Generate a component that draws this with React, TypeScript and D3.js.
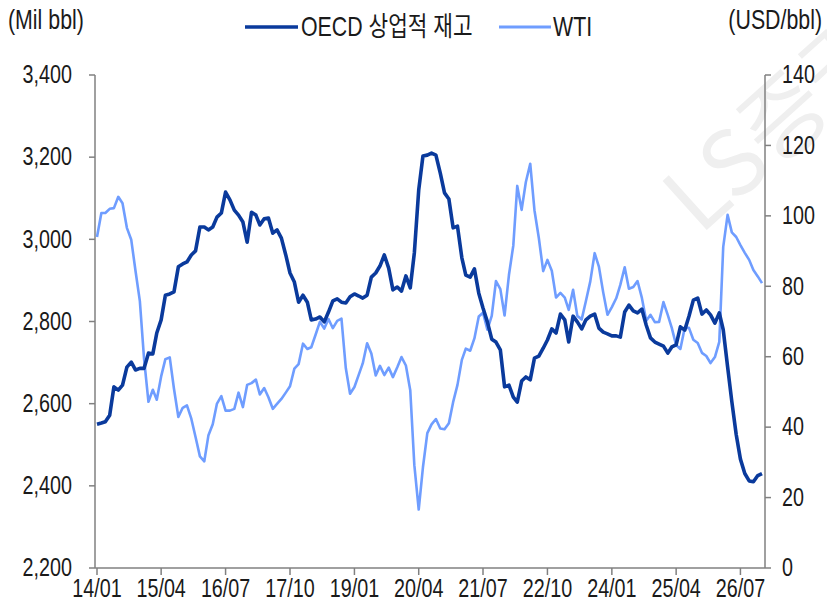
import React, { useEffect, useRef } from 'react';
import * as d3 from 'd3';

// monthly, 2014/01 .. 2026/12
const oecdStocks = [
  2550, 2553, 2556, 2572, 2641, 2633, 2645, 2689, 2701, 2682, 2686, 2686,
  2723, 2721, 2772, 2804, 2864, 2867, 2872, 2933, 2940, 2945, 2962, 2972,
  3030, 3030, 3023, 3030, 3054, 3064, 3115, 3096, 3071, 3059, 3042, 2993,
  3066, 3059, 3035, 3050, 3052, 3015, 3023, 3003, 2962, 2918, 2896, 2847,
  2864, 2847, 2804, 2806, 2811, 2799, 2823, 2850, 2855, 2847, 2845, 2860,
  2867, 2862, 2857, 2864, 2908, 2918, 2935, 2962, 2930, 2877, 2884, 2874,
  2911, 2882, 2967, 3120, 3203, 3205, 3210, 3205, 3161, 3113, 3098, 3028,
  3032, 2955, 2913, 2908, 2928, 2869, 2833, 2799, 2757, 2750, 2731, 2641,
  2645, 2616, 2604, 2655, 2665, 2658, 2711, 2716, 2735, 2755, 2782, 2772,
  2818, 2804, 2750, 2813, 2799, 2782, 2804, 2813, 2818, 2784, 2774, 2770,
  2765, 2765, 2762, 2823, 2840, 2826, 2821, 2830, 2791, 2760, 2750, 2745,
  2740, 2723, 2738, 2743, 2787, 2779, 2813, 2852, 2857, 2818, 2828, 2816,
  2796, 2821, 2780, 2690, 2605, 2525, 2465, 2430, 2412, 2410, 2425, 2430,
];

const wtiPrice = [
  94.0, 100.8, 100.8, 102.0, 102.2, 105.4, 103.6, 96.6, 93.2, 84.4, 75.8, 59.3,
  47.2, 50.6, 47.8, 54.4, 59.3, 59.8, 50.9, 42.9, 45.5, 46.2, 42.4, 37.2,
  31.7, 30.3, 37.6, 40.8, 46.7, 48.8, 44.7, 44.7, 45.2, 49.8, 45.7, 52.0,
  52.5, 53.5, 49.3, 51.1, 48.5, 45.2, 46.6, 48.0, 49.8, 51.6, 56.6, 57.9,
  63.7, 62.2, 62.7, 66.3, 69.9, 68.0, 70.7, 68.1, 70.2, 70.8, 56.7, 49.5,
  51.4, 54.9, 58.1, 63.8, 60.9, 54.7, 57.4, 54.8, 56.9, 54.2, 57.0, 59.9,
  57.5, 50.5, 29.2, 16.6, 28.6, 38.3, 40.8, 42.3, 39.6, 39.4, 41.1, 47.1,
  52.0, 59.1, 62.3, 61.7, 65.2, 71.4, 72.5, 67.7, 71.6, 81.5, 79.2, 71.7,
  83.2, 91.6, 108.5, 101.7, 109.6, 114.8, 101.6, 93.7, 84.3, 87.5, 84.4, 76.8,
  78.1, 76.8, 73.3, 79.0, 71.6, 70.6, 75.8, 81.4, 89.4, 85.6, 78.2, 71.9,
  74.1, 76.6, 80.4, 85.4, 79.3, 79.8, 81.5, 76.7, 70.2, 71.9, 69.8, 69.9,
  75.5, 71.8, 68.2, 63.3, 62.2, 68.2, 68.2, 64.8, 63.9, 61.1, 60.2, 58.2,
  59.9, 64.2, 91.2, 100.3, 95.3, 94.0, 91.7, 89.5, 87.5, 84.6, 82.8, 80.9,
];

const xTickLabels = ['14/01', '15/04', '16/07', '17/10', '19/01', '20/04', '21/07', '22/10', '24/01', '25/04', '26/07'];
const leftTicks = [2200, 2400, 2600, 2800, 3000, 3200, 3400];
const rightTicks = [0, 20, 40, 60, 80, 100, 120, 140];
const seriesNames = ['OECD 상업적 재고', 'WTI'];

const W = 827;
const H = 603;
const font = '"Liberation Sans", Arial, "Noto Sans CJK KR", sans-serif';
const dark = '#0a3a9c';
const light = '#6f9dff';
const axisColor = '#808080';

export default function App() {
  const ref = useRef<SVGSVGElement>(null);

  useEffect(() => {
    const svg = d3.select(ref.current);
    svg.selectAll('*').remove();

    const parse = d3.timeParse('%y/%m');
    const months = d3.timeMonth.range(new Date(2014, 0, 1), new Date(2027, 0, 1));

    const x = d3.scaleTime().domain([months[0], months[months.length - 1]]).range([97, 762]);
    const yL = d3.scaleLinear().domain([2200, 3400]).range([568, 75]);
    const yR = d3.scaleLinear().domain([0, 140]).range([568, 75]);

    // squeezed text helper (narrow look)
    const label = (g, tx, ty, str, size, anchor, sx = 0.79) =>
      g.append('text')
        .attr('transform', `translate(${tx},${ty}) scale(${sx},1)`)
        .attr('text-anchor', anchor)
        .attr('dominant-baseline', 'central')
        .attr('font-family', font)
        .attr('font-size', size)
        .attr('fill', '#1a1a1a')
        .text(str);

    // watermark (cut by the right edge, as in the source)
    svg.append('text')
      .attr('transform', 'translate(700,236) rotate(-42)')
      .attr('font-family', '"Noto Sans CJK KR", sans-serif')
      .attr('font-size', 90)
      .attr('fill', '#efefef')
      .text('LS증권');

    // left axis
    const gl = svg.append('g');
    gl.append('line').attr('x1', 95).attr('x2', 95).attr('y1', yL(3400)).attr('y2', yL(2200))
      .attr('stroke', axisColor).attr('stroke-width', 1.5);
    leftTicks.forEach(t => {
      gl.append('line').attr('x1', 89).attr('x2', 95).attr('y1', yL(t)).attr('y2', yL(t))
        .attr('stroke', axisColor).attr('stroke-width', 1.5);
      label(gl, 72, yL(t), d3.format(',')(t), 25, 'end');
    });

    // right axis
    const gr = svg.append('g');
    gr.append('line').attr('x1', 765).attr('x2', 765).attr('y1', yR(140)).attr('y2', yR(0))
      .attr('stroke', axisColor).attr('stroke-width', 1.5);
    rightTicks.forEach(t => {
      gr.append('line').attr('x1', 765).attr('x2', 771).attr('y1', yR(t)).attr('y2', yR(t))
        .attr('stroke', axisColor).attr('stroke-width', 1.5);
      label(gr, 782, yR(t), String(t), 25, 'start');
    });

    // bottom axis
    const gb = svg.append('g');
    gb.append('line').attr('x1', 95).attr('x2', 765).attr('y1', 568).attr('y2', 568)
      .attr('stroke', axisColor).attr('stroke-width', 1.5);
    xTickLabels.forEach(s => {
      const px = x(parse(s));
      gb.append('line').attr('x1', px).attr('x2', px).attr('y1', 568).attr('y2', 575)
        .attr('stroke', axisColor).attr('stroke-width', 1.5);
      label(gb, px, 589, s, 25, 'middle');
    });

    // lines
    const lineL = d3.line<number>().x((d, i) => x(months[i])).y(d => yL(d));
    const lineR = d3.line<number>().x((d, i) => x(months[i])).y(d => yR(d));

    svg.append('path').datum(wtiPrice).attr('d', lineR)
      .attr('fill', 'none').attr('stroke', light).attr('stroke-width', 2.6).attr('stroke-linejoin', 'round');
    svg.append('path').datum(oecdStocks).attr('d', lineL)
      .attr('fill', 'none').attr('stroke', dark).attr('stroke-width', 3.6).attr('stroke-linejoin', 'round');

    // unit labels
    label(svg, 8, 20, '(Mil bbl)', 27, 'start');
    label(svg, 822, 20, '(USD/bbl)', 27, 'end');

    // legend
    const lg = svg.append('g');
    lg.append('line').attr('x1', 245).attr('x2', 298).attr('y1', 27).attr('y2', 27)
      .attr('stroke', dark).attr('stroke-width', 3.6);
    label(lg, 301, 27, seriesNames[0], 27, 'start');
    lg.append('line').attr('x1', 499).attr('x2', 551).attr('y1', 27).attr('y2', 27)
      .attr('stroke', light).attr('stroke-width', 3);
    label(lg, 553, 27, seriesNames[1], 27, 'start');
  }, []);

  return (
    <svg
      ref={ref}
      width={W}
      height={H}
      style={{ position: 'absolute', left: 0, top: 0, background: '#fff' }}
    />
  );
}
